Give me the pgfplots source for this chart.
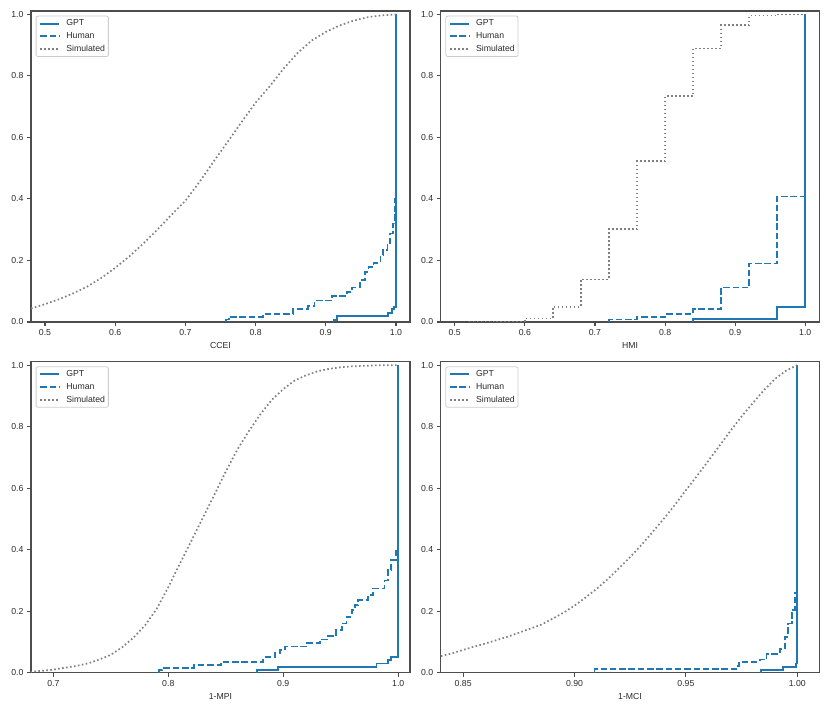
\documentclass[border=0pt]{standalone}
\usepackage{fontspec}
\setmainfont{Liberation Sans}
\usepackage{pgfplots}
\pgfplotsset{compat=1.18}
\definecolor{tabblue}{HTML}{1F77B4}
\definecolor{simgray}{HTML}{808080}
\definecolor{axcol}{HTML}{4D4D4D}
\definecolor{txtcol}{HTML}{2B2B2B}
\newcommand{\fs}{\fontsize{8.7}{10}\selectfont}
\pgfplotsset{
  myax/.style={
    anchor=south west, scale only axis, width=379pt, height=311pt,
    ymin=0, ymax=1.011,
    ytick={0,0.2,0.4,0.6,0.8,1.0},
    tick align=outside, xtick pos=bottom, ytick pos=left,
    major tick length=4pt, minor tick num=0,
    tick style={axcol, line width=1.1pt},
    axis line style={axcol, line width=1.1pt},
    ticklabel style={font=\fs, text=txtcol},
    label style={font=\fs, text=txtcol},
    /pgf/number format/assume math mode=true,
    y tick label style={/pgf/number format/.cd, fixed, fixed zerofill, precision=1},
    legend style={at={(0,1)}, anchor=north west, xshift=4.7pt, yshift=-4.7pt,
      draw=black!20, line width=0.8pt, rounded corners=2pt, fill=white,
      font=\fs, inner xsep=3.3pt, inner ysep=1.2pt, row sep=0pt,
      nodes={inner sep=0pt, text height=6.4pt, text depth=1.8pt, minimum height=12.7pt, text=txtcol},
      /tikz/every odd column/.append style={column sep=6.2pt}},
    legend cell align=left,
    legend image code/.code={\draw[#1, rounded corners=0pt] (0pt,0pt) -- (19pt,0pt);},
  },
  gpt/.style={color=tabblue, line width=1.8pt, const plot},
  hum/.style={color=tabblue, line width=1.8pt, const plot, dash pattern=on 6.5pt off 2.8pt},
  sim/.style={color=simgray, line width=1.7pt, dash pattern=on 1.6pt off 2.4pt},
}
\begin{document}
\begin{tikzpicture}
\useasboundingbox (0,0) rectangle (830pt,712pt);
% ---------- CCEI ----------
\begin{axis}[myax, at={(31pt,390pt)}, xmin=0.48, xmax=1.02,
  xtick={0.5,0.6,0.7,0.8,0.9,1.0},
  x tick label style={/pgf/number format/.cd, fixed, fixed zerofill, precision=1},
  xlabel={CCEI}]
\addplot[gpt] coordinates {(0.911,0) (0.911,0.0055) (0.916,0.020) (0.9886,0.030) (0.994,0.043) (0.9975,0.050) (1.0,1.0)};
\addplot[hum] coordinates {(0.758,0) (0.758,0.008) (0.762,0.017) (0.810,0.026) (0.853,0.043) (0.875,0.051) (0.884,0.070) (0.909,0.085) (0.930,0.098) (0.937,0.112) (0.949,0.136) (0.956,0.163) (0.961,0.179) (0.968,0.192) (0.978,0.217) (0.982,0.235) (0.988,0.257) (0.992,0.288) (0.9958,0.320) (0.998,0.36) (0.999,0.40) (1.0,1.0)};
\addplot[sim] coordinates {(0.48,0.044) (0.50,0.058) (0.52,0.074) (0.54,0.093) (0.56,0.115) (0.58,0.143) (0.60,0.176) (0.62,0.213) (0.64,0.255) (0.66,0.300) (0.68,0.348) (0.70,0.394) (0.72,0.455) (0.74,0.521) (0.76,0.585) (0.78,0.650) (0.80,0.713) (0.82,0.766) (0.84,0.824) (0.86,0.875) (0.88,0.915) (0.90,0.943) (0.92,0.964) (0.94,0.980) (0.96,0.991) (0.98,0.997) (1.00,1.000)};
\legend{GPT,Human,Simulated}
\end{axis}
% ---------- HMI ----------
\begin{axis}[myax, at={(440.7pt,390pt)}, width=378.6pt, xmin=0.48, xmax=1.02,
  xtick={0.5,0.6,0.7,0.8,0.9,1.0},
  x tick label style={/pgf/number format/.cd, fixed, fixed zerofill, precision=1},
  xlabel={HMI}]
\addplot[gpt] coordinates {(0.84,0) (0.84,0.009) (0.96,0.050) (1.0,1.0)};
\addplot[hum] coordinates {(0.72,0) (0.72,0.008) (0.76,0.016) (0.80,0.025) (0.84,0.042) (0.88,0.112) (0.92,0.190) (0.96,0.408) (1.00,1.000)};
\addplot[sim, const plot] coordinates {(0.52,0.0005) (0.56,0.002) (0.60,0.011) (0.64,0.049) (0.68,0.138) (0.72,0.302) (0.76,0.523) (0.80,0.734) (0.84,0.889) (0.88,0.965) (0.92,0.996) (0.96,0.9995) (1.00,1.000)};
\legend{GPT,Human,Simulated}
\end{axis}
% ---------- 1-MPI ----------
\begin{axis}[myax, at={(31pt,39.3pt)}, xmin=0.6806, xmax=1.0102,
  xtick={0.7,0.8,0.9,1.0},
  x tick label style={/pgf/number format/.cd, fixed, fixed zerofill, precision=1},
  xlabel={1-MPI}]
\addplot[gpt] coordinates {(0.8768,0) (0.8768,0.0087) (0.8957,0.0195) (0.981,0.030) (0.991,0.041) (0.994,0.050) (1.000,1.000)};
\addplot[hum] coordinates {(0.792,0) (0.792,0.009) (0.795,0.016) (0.8226,0.025) (0.846,0.035) (0.8826,0.050) (0.893,0.063) (0.897,0.074) (0.9015,0.085) (0.920,0.0955) (0.932,0.108) (0.939,0.119) (0.946,0.139) (0.951,0.160) (0.955,0.182) (0.9595,0.204) (0.9623,0.220) (0.965,0.236) (0.974,0.253) (0.978,0.274) (0.988,0.300) (0.991,0.334) (0.994,0.367) (0.998,0.400) (1.000,1.000)};
\addplot[sim] coordinates {(0.68,0.003) (0.69,0.006) (0.70,0.010) (0.71,0.016) (0.72,0.022) (0.73,0.030) (0.74,0.043) (0.75,0.058) (0.76,0.083) (0.77,0.115) (0.78,0.155) (0.79,0.208) (0.80,0.278) (0.81,0.354) (0.82,0.428) (0.83,0.503) (0.84,0.578) (0.85,0.654) (0.86,0.725) (0.87,0.785) (0.88,0.840) (0.89,0.887) (0.90,0.922) (0.91,0.950) (0.92,0.967) (0.93,0.980) (0.94,0.988) (0.95,0.993) (0.96,0.996) (0.98,0.999) (1.00,1.000)};
\legend{GPT,Human,Simulated}
\end{axis}
% ---------- 1-MCI ----------
\begin{axis}[myax, at={(440.7pt,39.3pt)}, width=378.6pt, xmin=0.8399, xmax=1.0099,
  xtick={0.85,0.90,0.95,1.00},
  x tick label style={/pgf/number format/.cd, fixed, fixed zerofill, precision=2},
  xlabel={1-MCI}]
\addplot[gpt] coordinates {(0.9837,0) (0.9837,0.0087) (0.9937,0.0195) (0.9993,0.030) (1.000,1.000)};
\addplot[hum] coordinates {(0.909,0) (0.909,0.011) (0.9725,0.022) (0.974,0.036) (0.9832,0.043) (0.9862,0.060) (0.9922,0.076) (0.9945,0.117) (0.996,0.160) (0.9975,0.204) (0.999,0.258) (1.000,1.000)};
\addplot[sim] coordinates {(0.840,0.054) (0.845,0.063) (0.850,0.074) (0.855,0.085) (0.860,0.095) (0.865,0.106) (0.870,0.117) (0.875,0.130) (0.880,0.143) (0.885,0.156) (0.890,0.175) (0.895,0.195) (0.900,0.218) (0.905,0.245) (0.910,0.273) (0.915,0.305) (0.920,0.340) (0.925,0.376) (0.930,0.415) (0.935,0.457) (0.940,0.500) (0.945,0.545) (0.950,0.593) (0.955,0.640) (0.960,0.688) (0.965,0.737) (0.970,0.786) (0.975,0.833) (0.980,0.876) (0.985,0.918) (0.990,0.955) (0.995,0.982) (1.000,1.000)};
\legend{GPT,Human,Simulated}
\end{axis}
\end{tikzpicture}
\end{document}
